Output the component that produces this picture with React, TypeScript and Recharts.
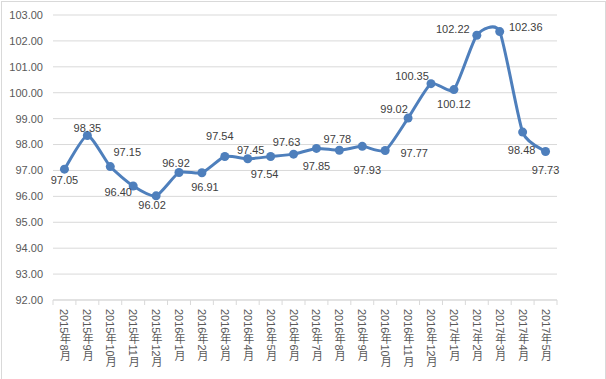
import { LineChart, Line, XAxis, YAxis, CartesianGrid } from 'recharts'

const months = [
  '2015年8月', '2015年9月', '2015年10月', '2015年11月', '2015年12月',
  '2016年1月', '2016年2月', '2016年3月', '2016年4月', '2016年5月',
  '2016年6月', '2016年7月', '2016年8月', '2016年9月', '2016年10月',
  '2016年11月', '2016年12月', '2017年1月', '2017年2月', '2017年3月',
  '2017年4月', '2017年5月',
]

const index = [
  97.05, 98.35, 97.15, 96.4, 96.02, 96.92, 96.91, 97.54, 97.45, 97.54, 97.63,
  97.85, 97.78, 97.93, 97.77, 99.02, 100.35, 100.12, 102.22, 102.36, 98.48, 97.73,
]

const yTicks = [92, 93, 94, 95, 96, 97, 98, 99, 100, 101, 102, 103]

// label offsets [dx, dy] from the point, as placed in the original
const labelOffsets: [number, number][] = [
  [0, 15], [0, -3], [17, -11], [-15, 10], [-4, 13], [-3, -6], [3, 18], [-5, -16],
  [3, -5], [-6, 22], [-7, -8], [0, 22], [-2, -7], [5, 28], [29, 6], [-14, -5],
  [-19, -4], [0, 18], [-24, -2], [26, -1], [-1, 22], [0, 22],
]

const W = 606
const H = 379
const M = { top: 15, right: 49, left: 0, bottom: 0 }
const Y_W = 53
const X_H = 79
const STEP = (W - M.right - Y_W) / months.length

const FONT = '"Liberation Sans", "Noto Sans CJK SC", sans-serif'
const BLUE = '#4e7fbc'

// smooth curve similar to the spreadsheet's smoothed line
function smoothCurve(context: any) {
  let pts: number[][] = []
  return {
    areaStart() {},
    areaEnd() {},
    lineStart() {
      pts = []
    },
    point(x: number, y: number) {
      pts.push([+x, +y])
    },
    lineEnd() {
      if (!pts.length) return
      context.moveTo(pts[0][0], pts[0][1])
      const k = 0.1
      for (let i = 0; i < pts.length - 1; i++) {
        const p0 = pts[i - 1] || pts[i]
        const p1 = pts[i]
        const p2 = pts[i + 1]
        const p3 = pts[i + 2] || p2
        context.bezierCurveTo(
          p1[0] + (p2[0] - p0[0]) * k,
          p1[1] + (p2[1] - p0[1]) * k,
          p2[0] - (p3[0] - p1[0]) * k,
          p2[1] - (p3[1] - p1[1]) * k,
          p2[0],
          p2[1],
        )
      }
    },
  }
}

function MonthTick(props: any) {
  const { x, y, payload, index: i } = props
  return (
    <g>
      <line x1={x - STEP / 2} x2={x - STEP / 2} y1={y} y2={y + 5} stroke="#d9d9d9" />
      {i === months.length - 1 && (
        <line x1={x + STEP / 2} x2={x + STEP / 2} y1={y} y2={y + 5} stroke="#d9d9d9" />
      )}
      <text
        x={x}
        y={y + 9}
        fill="#595959"
        fontSize={11}
        fontFamily={FONT}
        style={{ writingMode: 'vertical-rl' }}
      >
        {payload.value}
      </text>
    </g>
  )
}

function PointLabel(props: any) {
  const { x, y, value, index: i } = props
  const [dx, dy] = labelOffsets[i] || [0, -8]
  return (
    <text x={x + dx} y={y + dy} textAnchor="middle" fill="#404040" fontSize={11} fontFamily={FONT}>
      {Number(value).toFixed(2)}
    </text>
  )
}

export default function App() {
  const data = months.map((m, i) => ({ month: m, value: index[i] }))

  return (
    <div style={{ position: 'absolute', left: 0, top: 0, width: W, height: H, background: '#fff' }}>
      <LineChart width={W} height={H} data={data} margin={M}>
        <CartesianGrid stroke="#d9d9d9" vertical={false} />
        <XAxis
          dataKey="month"
          interval={0}
          height={X_H}
          padding={{ left: STEP / 2, right: STEP / 2 }}
          tickSize={0}
          tickMargin={0}
          tickLine={false}
          axisLine={{ stroke: '#d9d9d9' }}
          tick={<MonthTick />}
        />
        <YAxis
          width={Y_W}
          domain={[92, 103]}
          ticks={yTicks}
          interval={0}
          axisLine={false}
          tickLine={false}
          tickMargin={4}
          tickFormatter={(v: number) => v.toFixed(2)}
          tick={{ fontSize: 11, fill: '#595959', fontFamily: FONT }}
        />
        <Line
          dataKey="value"
          type={smoothCurve as any}
          stroke={BLUE}
          strokeWidth={3}
          dot={{ r: 4.5, fill: BLUE, stroke: BLUE, strokeWidth: 0 }}
          label={<PointLabel />}
          isAnimationActive={false}
        />
      </LineChart>
      <div
        style={{
          position: 'absolute',
          left: 1,
          top: 1,
          width: 603,
          height: 377,
          border: '1px solid #d9d9d9',
          pointerEvents: 'none',
        }}
      />
    </div>
  )
}
